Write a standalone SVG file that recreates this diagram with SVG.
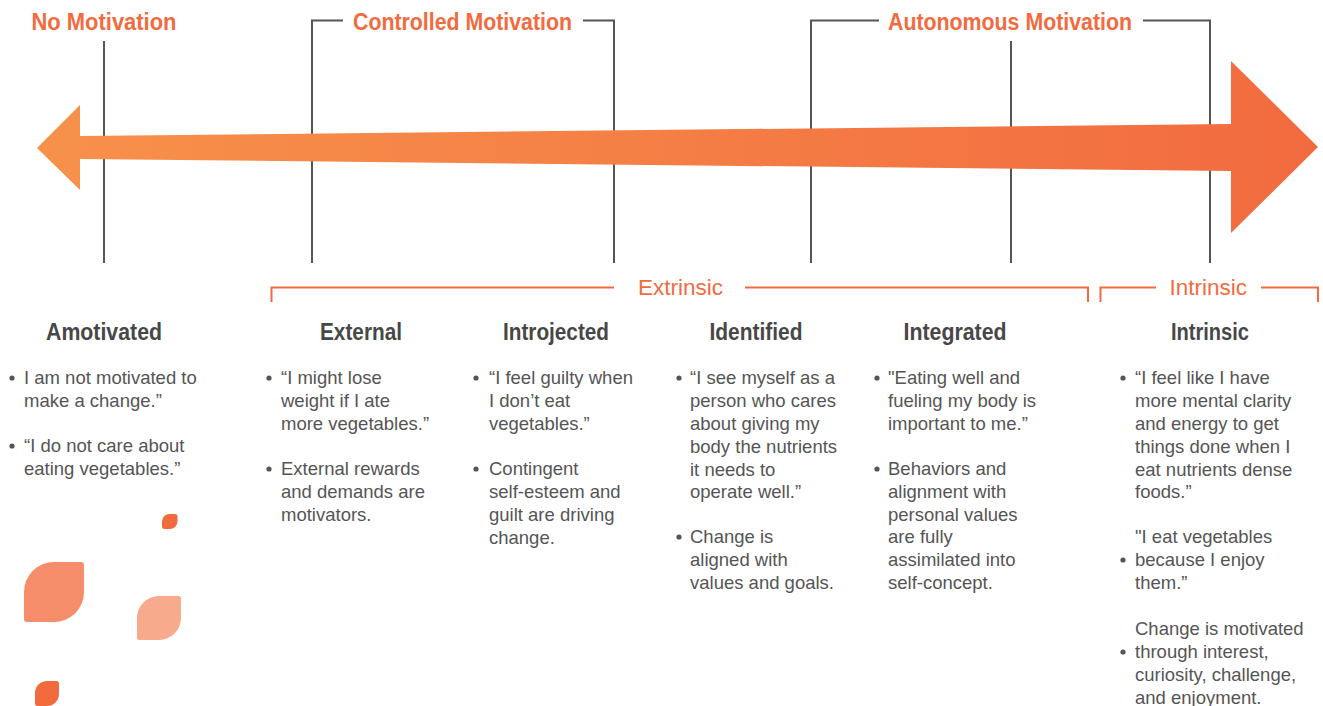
<svg xmlns="http://www.w3.org/2000/svg" width="1323" height="706" viewBox="0 0 1323 706">
  <defs>
    <linearGradient id="arrowFill" x1="37" y1="0" x2="1318" y2="0" gradientUnits="userSpaceOnUse">
      <stop offset="0" stop-color="#F7914A"/>
      <stop offset="1" stop-color="#F26B40"/>
    </linearGradient>
    <style>
      .rule { stroke: #555; stroke-width: 2; fill: none; }
      .brace { stroke: #F26B3F; stroke-width: 2; fill: none; }
      .band { font-family: "Liberation Sans", Arial, sans-serif; font-weight: bold; font-size: 23px; fill: #F26B3F; }
      .tier { font-family: "Liberation Sans", Arial, sans-serif; font-size: 22.5px; fill: #F26B3F; }
      .head { font-family: "Liberation Sans", Arial, sans-serif; font-weight: bold; font-size: 23px; fill: #474747; text-anchor: middle; }
      .body { font-family: "Liberation Sans", Arial, sans-serif; font-size: 18.5px; fill: #555; }
      .dot { fill: #555; }
    </style>
  </defs>

  <rect width="1323" height="706" fill="#fff"/>

  <!-- Scale rules and brackets -->
  <g id="connectors">
    <path class="rule" d="M104 41 V263"/>
    <path class="rule" d="M343 20.5 H312 V263"/>
    <path class="rule" d="M583 20.5 H614 V263"/>
    <path class="rule" d="M879 20.5 H811 V263"/>
    <path class="rule" d="M1011 41 V263"/>
    <path class="rule" d="M1143 20.5 H1210 V263"/>

    <path class="brace" d="M271.5 302 V287.5 H614"/>
    <path class="brace" d="M745 287.5 H1088 V302"/>
    <path class="brace" d="M1100.5 302 V287.5 H1156"/>
    <path class="brace" d="M1261 287.5 H1318 V302"/>
  </g>

  <!-- Double-headed continuum arrow -->
  <g id="continuum">
    <polygon fill="url(#arrowFill)" points="37,148 80,105 80,136 1231,124 1231,61 1318,147 1231,233 1231,171 80,159 80,190"/>
  </g>

  <!-- Band labels -->
  <g id="band-labels">
    <text class="band" x="31.5" y="30" textLength="145" lengthAdjust="spacingAndGlyphs">No Motivation</text>
    <text class="band" x="353" y="30" textLength="219" lengthAdjust="spacingAndGlyphs">Controlled Motivation</text>
    <text class="band" x="888" y="30" textLength="244" lengthAdjust="spacingAndGlyphs">Autonomous Motivation</text>
    <text class="tier" x="638" y="295">Extrinsic</text>
    <text class="tier" x="1169.5" y="295">Intrinsic</text>
  </g>

  <g id="amotivated">
    <text class="head" x="104" y="340" textLength="116" lengthAdjust="spacingAndGlyphs">Amotivated</text>
    <circle class="dot" cx="12" cy="378" r="2.6"/>
    <circle class="dot" cx="12" cy="446" r="2.6"/>
    <text class="body">
      <tspan x="24" y="384">I am not motivated to</tspan>
      <tspan x="24" y="407">make a change.”</tspan>
      <tspan x="24" y="452">“I do not care about</tspan>
      <tspan x="24" y="475">eating vegetables.”</tspan>
    </text>
  </g>

  <g id="external">
    <text class="head" x="361" y="340" textLength="82" lengthAdjust="spacingAndGlyphs">External</text>
    <circle class="dot" cx="269" cy="378" r="2.6"/>
    <circle class="dot" cx="269" cy="469" r="2.6"/>
    <text class="body">
      <tspan x="281" y="384">“I might lose</tspan>
      <tspan x="281" y="407">weight if I ate</tspan>
      <tspan x="281" y="430">more vegetables.”</tspan>
      <tspan x="281" y="475">External rewards</tspan>
      <tspan x="281" y="498">and demands are</tspan>
      <tspan x="281" y="521">motivators.</tspan>
    </text>
  </g>

  <g id="introjected">
    <text class="head" x="556" y="340" textLength="106" lengthAdjust="spacingAndGlyphs">Introjected</text>
    <circle class="dot" cx="476" cy="378" r="2.6"/>
    <circle class="dot" cx="476" cy="469" r="2.6"/>
    <text class="body">
      <tspan x="489" y="384">“I feel guilty when</tspan>
      <tspan x="489" y="407">I don’t eat</tspan>
      <tspan x="489" y="430">vegetables.”</tspan>
      <tspan x="489" y="475">Contingent</tspan>
      <tspan x="489" y="498">self-esteem and</tspan>
      <tspan x="489" y="521">guilt are driving</tspan>
      <tspan x="489" y="544">change.</tspan>
    </text>
  </g>

  <g id="identified">
    <text class="head" x="756" y="340" textLength="93" lengthAdjust="spacingAndGlyphs">Identified</text>
    <circle class="dot" cx="679" cy="378" r="2.6"/>
    <circle class="dot" cx="679" cy="537" r="2.6"/>
    <text class="body">
      <tspan x="690" y="384">“I see myself as a</tspan>
      <tspan x="690" y="407">person who cares</tspan>
      <tspan x="690" y="430">about giving my</tspan>
      <tspan x="690" y="453">body the nutrients</tspan>
      <tspan x="690" y="476">it needs to</tspan>
      <tspan x="690" y="498">operate well.”</tspan>
      <tspan x="690" y="543">Change is</tspan>
      <tspan x="690" y="566">aligned with</tspan>
      <tspan x="690" y="589">values and goals.</tspan>
    </text>
  </g>

  <g id="integrated">
    <text class="head" x="955" y="340" textLength="103" lengthAdjust="spacingAndGlyphs">Integrated</text>
    <circle class="dot" cx="877" cy="378" r="2.6"/>
    <circle class="dot" cx="877" cy="469" r="2.6"/>
    <text class="body">
      <tspan x="888" y="384">"Eating well and</tspan>
      <tspan x="888" y="407">fueling my body is</tspan>
      <tspan x="888" y="430">important to me.”</tspan>
      <tspan x="888" y="475">Behaviors and</tspan>
      <tspan x="888" y="498">alignment with</tspan>
      <tspan x="888" y="521">personal values</tspan>
      <tspan x="888" y="543">are fully</tspan>
      <tspan x="888" y="566">assimilated into</tspan>
      <tspan x="888" y="589">self-concept.</tspan>
    </text>
  </g>

  <g id="intrinsic">
    <text class="head" x="1210" y="340" textLength="78" lengthAdjust="spacingAndGlyphs">Intrinsic</text>
    <circle class="dot" cx="1123" cy="378" r="2.6"/>
    <circle class="dot" cx="1123" cy="560" r="2.6"/>
    <circle class="dot" cx="1123" cy="652" r="2.6"/>
    <text class="body">
      <tspan x="1135" y="384">“I feel like I have</tspan>
      <tspan x="1135" y="407">more mental clarity</tspan>
      <tspan x="1135" y="430">and energy to get</tspan>
      <tspan x="1135" y="453">things done when I</tspan>
      <tspan x="1135" y="476">eat nutrients dense</tspan>
      <tspan x="1135" y="498">foods.”</tspan>
      <tspan x="1135" y="543">"I eat vegetables</tspan>
      <tspan x="1135" y="566">because I enjoy</tspan>
      <tspan x="1135" y="589">them.”</tspan>
      <tspan x="1135" y="635">Change is motivated</tspan>
      <tspan x="1135" y="658">through interest,</tspan>
      <tspan x="1135" y="681">curiosity, challenge,</tspan>
      <tspan x="1135" y="704">and enjoyment.</tspan>
    </text>
  </g>

  <!-- Decorative leaf shapes -->
  <g id="leaves">
    <path fill="#F26B3F" d="M170 514 H175 Q177.5 514 177.5 516.5 V521.5 A7.5 7.5 0 0 1 170 529 H164.5 Q162 529 162 526.5 V521.5 A7.5 7.5 0 0 1 170 514 Z"/>
    <path fill="#F58D6A" d="M54 562 H81 Q84 562 84 565 V592 A30 30 0 0 1 54 622 H27 Q24 622 24 619 V592 A30 30 0 0 1 54 562 Z"/>
    <path fill="#F8AA8C" d="M159 596 H178.5 Q181 596 181 598.5 V618 A22 22 0 0 1 159 640 H139.5 Q137 640 137 637.5 V618 A22 22 0 0 1 159 596 Z"/>
    <path fill="#F26B3F" d="M47 681 H56.5 Q59 681 59 683.5 V694 A12 12 0 0 1 47 706 H37.5 Q35 706 35 703.5 V693 A12 12 0 0 1 47 681 Z"/>
  </g>
</svg>
